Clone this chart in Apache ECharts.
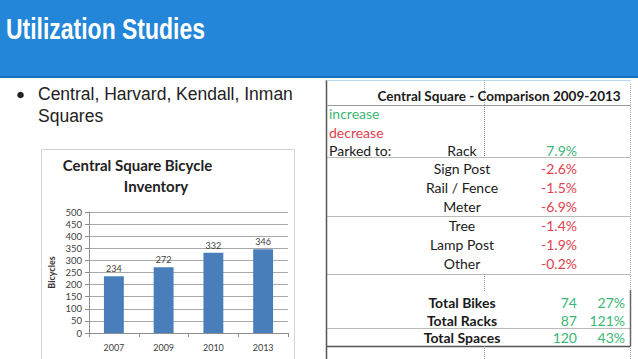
<!DOCTYPE html>
<html><head><meta charset="utf-8">
<script src="https://cdn.jsdelivr.net/npm/echarts@6/dist/echarts.min.js"></script>
<style>html,body{margin:0;padding:0;background:#fff;overflow:hidden}#c{width:638px;height:359px}</style>
</head><body><div id="c"></div>
<script>
// ---- data ----
const slideTitle = 'Utilization Studies';
const bulletLines = ['Central, Harvard, Kendall, Inman', 'Squares'];
const chartTitleLines = ['Central Square Bicycle', 'Inventory'];
const years = ['2007', '2009', '2010', '2013'];
const bicycles = [234, 272, 332, 346];
const yAxisName = 'Bicycles';
const yAxisMin = 0, yAxisMax = 500, yAxisStep = 50;

const tableTitle = 'Central Square - Comparison 2009-2013';
const legendLabels = ['increase', 'decrease'];
const parkedHeader = 'Parked to:';
const parkedLabels = ['Rack', 'Sign Post', 'Rail / Fence', 'Meter', 'Tree', 'Lamp Post', 'Other'];
const parkedChange = [7.9, -2.6, -1.5, -6.9, -1.4, -1.9, -0.2];
const totalLabels = ['Total Bikes', 'Total Racks', 'Total Spaces'];
const totalChange = [74, 87, 120];
const totalPct = [27, 121, 43];

// ---- styles ----
const GREEN = '#3bb676', RED = '#e2404e', DARK = '#1a1a1a';
const TFONT = 'Lato, "Open Sans", sans-serif';

const g = [];
// header
g.push({type:'rect', shape:{x:0,y:0,width:638,height:77}, style:{fill:'#2386d9'}});
g.push({type:'rect', shape:{x:0,y:76,width:638,height:2}, style:{fill:'#1b6fb8'}});
g.push({type:'text', x:6, y:29, scaleX:0.82, scaleY:1.02, style:{text:slideTitle, fill:'#fff', font:'bold 28px "Liberation Sans", Arial, sans-serif', textVerticalAlign:'middle'}});
// bullet
g.push({type:'circle', shape:{cx:20.5, cy:95, r:3.3}, style:{fill:'#222'}});
bulletLines.forEach((t,i)=>g.push({type:'text', x:38, y:94 + i*22, style:{text:t, fill:'#222', font:'17.5px "Liberation Sans", Arial, sans-serif', textVerticalAlign:'middle'}}));
// chart frame + title
g.push({type:'rect', shape:{x:41.5,y:149.5,width:253,height:220}, style:{fill:null, stroke:'#d4d4d4', lineWidth:1}, z:-1});
g.push({type:'text', x:137.5, y:165, style:{text:chartTitleLines[0], fill:'#222', font:'bold 15px '+TFONT, textAlign:'center', textVerticalAlign:'middle'}});
g.push({type:'text', x:156, y:186, style:{text:chartTitleLines[1], fill:'#222', font:'bold 15px '+TFONT, textAlign:'center', textVerticalAlign:'middle'}});

// table
const L = 326.5, R = 630.5, CX = 462, VX = 577, PX = 625, DIV = 484.5;
function hline(y, dashed, color, w){ g.push({type:'line', shape:{x1:L,y1:y,x2:R,y2:y}, style:{stroke:color||'#777', lineWidth:w||1, lineDash: dashed?[1,1]:null}}); }
function vline(x, y1, y2, dashed, color, w){ g.push({type:'line', shape:{x1:x,y1:y1,x2:x,y2:y2}, style:{stroke:color||'#777', lineWidth:w||1, lineDash: dashed?[1,1]:null}}); }
function txt(t, x, y, color, align, bold){ g.push({type:'text', x:x, y:y, style:{text:t, fill:color, font:(bold?'bold ':'')+'14px '+TFONT, textAlign:align||'left', textVerticalAlign:'middle'}}); }

vline(L, 80, 359, false, '#555', 1.5);
vline(R, 84, 290, true, '#aaa');
vline(R, 290, 346, false, '#666', 1.5);
vline(R, 346, 359, true, '#aaa');
hline(80.5, false, '#bcd6ee');
hline(105.5, false, '#999');
vline(DIV, 80, 105, true, '#aaa');
vline(DIV, 105, 157, true, '#888');
hline(157.5, true, '#777');
hline(216.5, true, '#777');
hline(274.5, true, '#777');
vline(DIV, 274, 292, true, '#999');
hline(328.5, true, '#777');
hline(346.5, false, '#555', 1.5);
vline(DIV, 346, 359, true, '#999');

g.push({type:'text', x:499, y:96, style:{text:tableTitle, fill:DARK, font:'bold 13.5px '+TFONT, textAlign:'center', textVerticalAlign:'middle'}});
txt(legendLabels[0], 329, 113, GREEN);
txt(legendLabels[1], 329, 132, RED);
txt(parkedHeader, 329, 150, DARK);
parkedLabels.forEach((lab,i)=>{
  const y = 150 + i*18.9;
  txt(lab, CX, y, DARK, 'center');
  const v = parkedChange[i];
  txt(v.toFixed(1)+'%', VX, y, v >= 0 ? GREEN : RED, 'right');
});
const totalY = [302, 320, 337.5];
totalLabels.forEach((lab,i)=>{
  txt(lab, CX, totalY[i], DARK, 'center', true);
  txt(String(totalChange[i]), VX, totalY[i], totalChange[i] >= 0 ? GREEN : RED, 'right');
  txt(totalPct[i]+'%', PX, totalY[i], totalPct[i] >= 0 ? GREEN : RED, 'right');
});

const chart = echarts.init(document.getElementById('c'), null, {renderer:'svg'});
chart.setOption({
  animation:false,
  backgroundColor:'#fff',
  grid:{left:89, right:350, top:212, bottom:26},
  xAxis:{type:'category', data:years, boundaryGap:true,
    axisLine:{lineStyle:{color:'#8c8c8c'}},
    axisTick:{show:true, length:4, lineStyle:{color:'#8c8c8c'}},
    axisLabel:{fontSize:9, color:'#404040', margin:10, fontFamily:TFONT}},
  yAxis:{type:'value', min:yAxisMin, max:yAxisMax, interval:yAxisStep,
    name:yAxisName, nameLocation:'middle', nameGap:33,
    nameTextStyle:{fontSize:9, fontWeight:'bold', color:'#333', fontFamily:TFONT},
    axisLine:{show:true, lineStyle:{color:'#8c8c8c'}},
    axisTick:{show:true, length:4, lineStyle:{color:'#8c8c8c'}},
    axisLabel:{fontSize:9.5, color:'#404040', margin:7, fontFamily:TFONT},
    splitLine:{lineStyle:{color:'#a8a8a8'}}},
  series:[{type:'bar', data:bicycles, barWidth:'40%', itemStyle:{color:'#4a7ebb'},
    label:{show:true, position:'top', distance:3, fontSize:9, color:'#404040', fontFamily:TFONT}}],
  graphic:{elements:g}
});
</script></body></html>
